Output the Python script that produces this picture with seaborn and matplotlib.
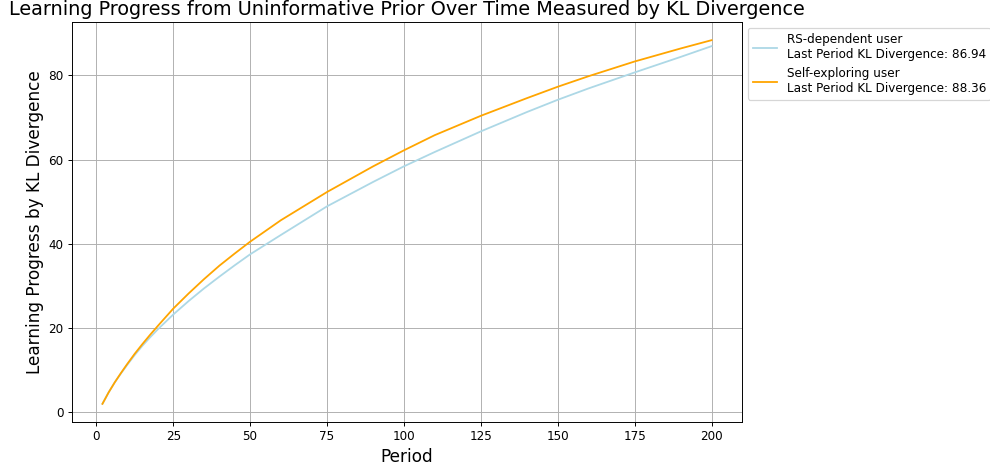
import pandas as pd
import seaborn as sns
import matplotlib.pyplot as plt

periods = [2, 4, 6, 8, 10, 12.5, 15, 17.5, 20, 25, 30, 35, 40, 45, 50, 60, 75, 90, 100,
           110, 125, 140, 150, 160, 175, 190, 200]

# KL divergence learning progress
rs_dependent = [2.0, 4.7, 7.1, 9.2, 11.2, 13.6, 15.8, 17.8, 19.7, 23.2, 26.4, 29.4, 32.2, 34.9,
                37.5, 42.1, 48.9, 54.7, 58.4, 61.8, 66.7, 71.3, 74.2, 76.9, 80.7, 84.4, 86.94]
self_exploring = [2.0, 4.7, 7.1, 9.3, 11.4, 13.9, 16.2, 18.4, 20.5, 24.6, 28.2, 31.6, 34.8, 37.7,
                  40.5, 45.6, 52.3, 58.4, 62.2, 65.8, 70.4, 74.6, 77.3, 79.8, 83.3, 86.4, 88.36]

labels = ['RS-dependent user\nLast Period KL Divergence: %.2f' % rs_dependent[-1],
          'Self-exploring user\nLast Period KL Divergence: %.2f' % self_exploring[-1]]

df = pd.DataFrame({
    'Period': periods * 2,
    'KL': rs_dependent + self_exploring,
    'User': [labels[0]] * len(periods) + [labels[1]] * len(periods),
})

# the reference looks like a 12x6-ish figure shrunk down, so use a lower dpi
dpi = 86.6
fig = plt.figure(figsize=(990 / dpi, 470 / dpi), dpi=dpi)
ax = fig.add_axes([72 / 990, 48 / 470, 670 / 990, 400 / 470])

sns.lineplot(data=df, x='Period', y='KL', hue='User', palette=['lightblue', 'orange'], ax=ax)

ax.set_title('Learning Progress from Uninformative Prior Over Time Measured by KL Divergence', fontsize=16)
ax.set_xlabel('Period', fontsize=14)
ax.set_ylabel('Learning Progress by KL Divergence', fontsize=14)
ax.grid(True)
ax.legend(title=None, loc='upper left', bbox_to_anchor=(1, 1))

fig.savefig('out.png', dpi=dpi)
